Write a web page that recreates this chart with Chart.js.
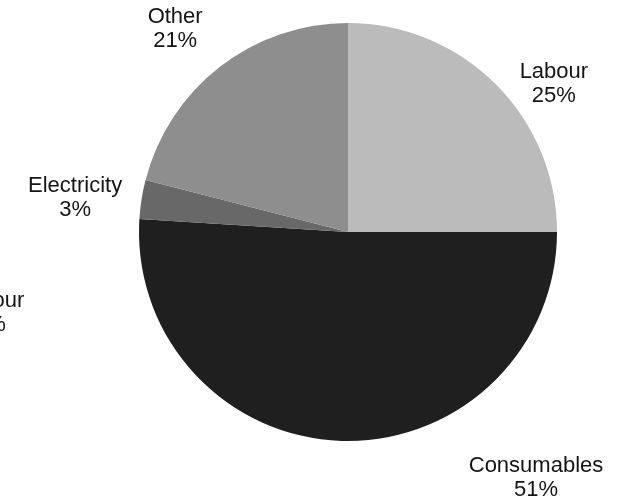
<!DOCTYPE html>
<html>
<head>
<meta charset="utf-8">
<script src="https://cdn.jsdelivr.net/npm/chart.js@4/dist/chart.umd.min.js"></script>
<style>
  html, body { margin: 0; padding: 0; background: #ffffff; }
  #wrap { width: 624px; height: 503px; }
</style>
</head>
<body>
<div id="wrap"><canvas id="costChart" width="624" height="503"></canvas></div>
<script>
// cost breakdown, clockwise from 12 o'clock
const categories = ['Labour', 'Consumables', 'Labour', 'Electricity', 'Other'];
const shares = [25, 51, 0, 3, 21];
const sliceColors = ['#bbbbbb', '#1f1f1f', '#444444', '#686868', '#8e8e8e'];

// where each label sits: angle (deg, clockwise from top) and distance in radii
const labelSpots = [
    { angle: 54.3, dist: 1.213 },
    { angle: 142.6, dist: 1.481 },
    { angle: 257.3, dist: 1.756 },
    { angle: 277.1, dist: 1.316 },
    { angle: 319.6, dist: 1.276 }
];

const outsideLabels = {
    id: 'outsideLabels',
    afterDraw(chart) {
        const ctx = chart.ctx;
        const arcs = chart.getDatasetMeta(0).data;
        ctx.save();
        ctx.font = '22px "Liberation Sans", Arial, sans-serif';
        ctx.fillStyle = '#141414';
        ctx.textAlign = 'center';
        ctx.textBaseline = 'middle';
        arcs.forEach((arc, i) => {
            const spot = labelSpots[i];
            const a = spot.angle * Math.PI / 180;
            const r = arc.outerRadius * spot.dist;
            const x = arc.x + r * Math.sin(a);
            const y = arc.y - r * Math.cos(a);
            ctx.fillText(categories[i], x, y - 12);
            ctx.fillText(shares[i] + '%', x, y + 12);
        });
        ctx.restore();
    }
};

new Chart(document.getElementById('costChart'), {
    type: 'pie',
    data: {
        labels: categories,
        datasets: [{
            data: shares,
            backgroundColor: sliceColors,
            borderWidth: 0
        }]
    },
    options: {
        responsive: false,
        animation: false,
        layout: {
            padding: { left: 139, right: 67, top: 23, bottom: 62 }
        },
        plugins: {
            legend: { display: false },
            tooltip: { enabled: false }
        }
    },
    plugins: [outsideLabels]
});
</script>
</body>
</html>
